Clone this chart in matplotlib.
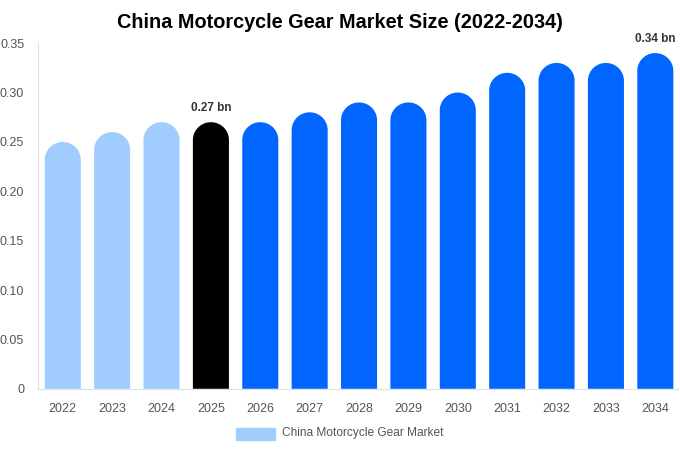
import numpy as np
import matplotlib.pyplot as plt
from matplotlib.path import Path
from matplotlib.patches import PathPatch

plt.rcParams['font.family'] = ['Liberation Sans', 'DejaVu Sans']

years = ['2022', '2023', '2024', '2025', '2026', '2027', '2028',
         '2029', '2030', '2031', '2032', '2033', '2034']
values = [0.25, 0.26, 0.27, 0.27, 0.27, 0.28, 0.29, 0.29, 0.30, 0.32, 0.33, 0.33, 0.34]
colors = ['#a0cdfd'] * 3 + ['#000000'] + ['#0066ff'] * 9
labels = {3: '0.27 bn', 12: '0.34 bn'}

fig = plt.figure(figsize=(6.8, 4.5), dpi=100)
ax = fig.add_axes([0.056, 0.136, 0.944, 0.768])

width = 0.73
ry = 0.018  # vertical radius of rounded top in data units
x = list(range(len(years)))


def rounded_bar(cx, h, color):
    # bar with a half-ellipse top
    t = np.linspace(np.pi, 0, 40)
    top_x = cx + width / 2 * np.cos(t)
    top_y = (h - ry) + ry * np.sin(t)
    xs = np.concatenate([[cx - width / 2], top_x, [cx + width / 2, cx - width / 2]])
    ys = np.concatenate([[0], top_y, [0, 0]])
    verts = np.column_stack([xs, ys])
    ax.add_patch(PathPatch(Path(verts, closed=True), facecolor=color,
                           edgecolor='none', linewidth=0))


for i, v in enumerate(values):
    rounded_bar(i, v, colors[i])
    if i in labels:
        ax.text(i, v + 0.008, labels[i], ha='center', va='bottom',
                fontsize=8.5, fontweight='bold', color='#333333')

ax.set_xlim(-0.5, len(years) - 0.5)
ax.set_ylim(0, 0.35)
ax.set_xticks(x)
ax.set_xticklabels(years)
yt = [0, 0.05, 0.10, 0.15, 0.20, 0.25, 0.30, 0.35]
ax.set_yticks(yt)
ax.set_yticklabels(['0'] + ['%.2f' % t for t in yt[1:]])
ax.tick_params(length=0, labelsize=9, colors='#555555')
ax.tick_params(axis='x', pad=10)
ax.tick_params(axis='y', pad=10)

for s in ['top', 'right']:
    ax.spines[s].set_visible(False)
ax.spines['left'].set_color('#e0e0e0')
ax.spines['bottom'].set_color('#e0e0e0')

fig.suptitle('China Motorcycle Gear Market Size (2022-2034)', x=0.5, y=0.97,
             fontsize=14.3, fontweight='bold', color='#000000')

# legend
fig.patches.append(plt.Rectangle((236 / 680, 1 - 440 / 450), 39 / 680, 12 / 450,
                                 transform=fig.transFigure, color='#a0cdfd'))
fig.text(282 / 680, 1 - 433 / 450, 'China Motorcycle Gear Market', fontsize=8.6,
         color='#555555', va='center', ha='left')

fig.savefig('out.png')
